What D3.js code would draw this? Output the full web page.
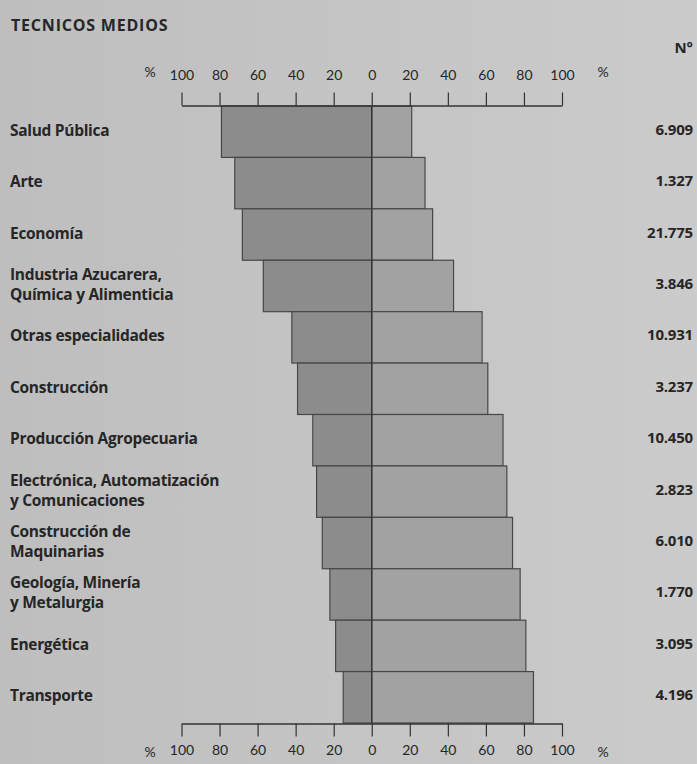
<!DOCTYPE html>
<html>
<head>
<meta charset="utf-8">
<script src="https://cdn.jsdelivr.net/npm/d3@7"></script>
<style>
  html, body { margin: 0; padding: 0; background: #c4c4c4; }
  svg { display: block; }
</style>
</head>
<body>
<svg id="chart" width="697" height="764"></svg>
<script>
const title = "TECNICOS MEDIOS";
const countHeader = "N°";
const categories = [
  "Salud Pública",
  "Arte",
  "Economía",
  "Industria Azucarera,\nQuímica y Alimenticia",
  "Otras especialidades",
  "Construcción",
  "Producción Agropecuaria",
  "Electrónica, Automatización\ny Comunicaciones",
  "Construcción de\nMaquinarias",
  "Geología, Minería\ny Metalurgia",
  "Energética",
  "Transporte"
];
const leftPct  = [79, 72, 68, 57, 42, 39, 31, 29, 26, 22, 19, 15];
const rightPct = [21, 28, 32, 43, 58, 61, 69, 71, 74, 78, 81, 85];
const counts = ["6.909", "1.327", "21.775", "3.846", "10.931", "3.237", "10.450", "2.823", "6.010", "1.770", "3.095", "4.196"];
const tickValues = [-100, -80, -60, -40, -20, 0, 20, 40, 60, 80, 100];

const W = 697, H = 764;
const svg = d3.select("#chart");
const boldFont = "'Open Sans', Lato, sans-serif";
const tickFont = "Lato, 'Open Sans', sans-serif";

// background with slight scan-like gradient
const defs = svg.append("defs");
const grad = defs.append("linearGradient").attr("id", "bg").attr("x1", "0").attr("x2", "1").attr("y1", "0").attr("y2", "0");
grad.append("stop").attr("offset", "0").attr("stop-color", "#bebebe");
grad.append("stop").attr("offset", "1").attr("stop-color", "#cbcbcb");
svg.append("rect").attr("width", W).attr("height", H).attr("fill", "url(#bg)");

const x = d3.scaleLinear().domain([-100, 100]).range([181.5, 562]);
const y = d3.scaleBand().domain(categories).range([106, 723]).padding(0);

const ink = "#262626";

// title
svg.append("text").attr("x", 11).attr("y", 31)
  .attr("font-family", boldFont).attr("font-weight", 700).attr("font-size", 16)
  .attr("letter-spacing", 0.8)
  .attr("fill", ink).text(title);
svg.append("text").attr("x", 693).attr("y", 53).attr("text-anchor", "end")
  .attr("font-family", boldFont).attr("font-weight", 700).attr("font-size", 15)
  .attr("fill", ink).text(countHeader);

// bars
const rows = svg.append("g").selectAll("g").data(categories).join("g");
rows.append("rect")
  .attr("x", (d, i) => x(-leftPct[i]))
  .attr("y", d => y(d))
  .attr("width", (d, i) => x(0) - x(-leftPct[i]))
  .attr("height", y.bandwidth())
  .attr("fill", "#8c8c8c")
  .attr("stroke", "#474747").attr("stroke-width", 1.2);
rows.append("rect")
  .attr("x", x(0))
  .attr("y", d => y(d))
  .attr("width", (d, i) => x(rightPct[i]) - x(0))
  .attr("height", y.bandwidth())
  .attr("fill", "#a2a2a2")
  .attr("stroke", "#474747").attr("stroke-width", 1.2);

// zero line
svg.append("line").attr("x1", x(0)).attr("x2", x(0))
  .attr("y1", y.range()[0]).attr("y2", y.range()[1])
  .attr("stroke", "#333").attr("stroke-width", 1.3);

// axes
function styleAxis(g) {
  g.selectAll("path.domain").attr("stroke", "#333").attr("stroke-width", 1.3);
  g.selectAll(".tick line").attr("stroke", "#333").attr("stroke-width", 1.2);
  g.selectAll(".tick text").attr("font-family", tickFont).attr("font-size", 14)
    .attr("fill", ink);
}
const fmt = d => Math.abs(d);
const topAxis = svg.append("g").attr("transform", `translate(0,${y.range()[0] - 0.5})`)
  .call(d3.axisTop(x).tickValues(tickValues).tickFormat(fmt).tickSize(13).tickSizeOuter(0).tickPadding(13));
styleAxis(topAxis);
const botAxis = svg.append("g").attr("transform", `translate(0,${y.range()[1] + 0.5})`)
  .call(d3.axisBottom(x).tickValues(tickValues).tickFormat(fmt).tickSize(13).tickSizeOuter(0).tickPadding(9));
styleAxis(botAxis);

// % signs
[[150, 77], [603, 77], [150, 757], [603, 757]].forEach(([px, py]) => {
  svg.append("text").attr("x", px).attr("y", py).attr("text-anchor", "middle")
    .attr("font-family", tickFont).attr("font-size", 14).attr("fill", ink).text("%");
});

// category labels
const lineH = 20;
categories.forEach((c, i) => {
  const lines = c.split("\n");
  const cy = y(c) + y.bandwidth() / 2;
  const t = svg.append("text").attr("x", 10)
    .attr("font-family", boldFont).attr("font-weight", 700).attr("font-size", 15.5)
    .attr("letter-spacing", -0.3)
    .attr("fill", ink);
  lines.forEach((ln, j) => {
    t.append("tspan").attr("x", 10)
      .attr("y", cy - (lines.length - 1) * lineH / 2 + j * lineH + 4)
      .text(ln);
  });
});

// counts
counts.forEach((n, i) => {
  const c = categories[i];
  const cy = y(c) + y.bandwidth() / 2;
  svg.append("text").attr("x", 693).attr("y", cy + 3)
    .attr("text-anchor", "end")
    .attr("font-family", boldFont).attr("font-weight", 700).attr("font-size", 15)
    .attr("letter-spacing", -0.2)
    .attr("fill", ink).text(n);
});
</script>
</body>
</html>
